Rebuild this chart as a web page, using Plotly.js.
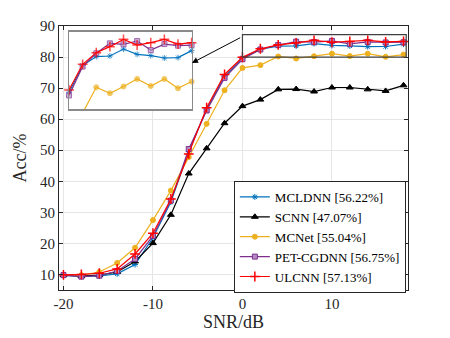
<!DOCTYPE html>
<html>
<head>
<meta charset="utf-8">
<script src="https://cdn.plot.ly/plotly-3.0.1.min.js"></script>
<style>html,body{margin:0;padding:0;background:#fff;}#chart{width:450px;height:338px;}</style>
</head>
<body>
<div id="chart"></div>
<script>
const snr = [-20,-18,-16,-14,-12,-10,-8,-6,-4,-2,0,2,4,6,8,10,12,14,16,18];
const mcldnn = [9.7,9.4,9.5,10.2,13.2,21.8,33.3,49.6,63.2,73.8,79.65,82.54,83.51,83.58,84.33,83.76,83.62,83.36,83.4,84.16];
const scnn   = [9.8,9.5,9.8,10.8,14.2,20.1,29.2,42.5,50.6,58.7,64.2,66.3,69.6,69.7,68.9,70.2,70.2,69.6,69.1,70.9];
const mcnet  = [9.8,9.8,10.8,13.7,18.6,27.5,37.0,47.8,58.5,69.3,76.5,77.4,80.19,79.54,80.27,81.09,80.33,81.09,80.08,80.81];
const petcgdnn = [9.8,9.3,9.6,11.1,15.0,22.4,33.8,50.4,62.8,73.3,79.3,82.43,83.87,84.95,84.84,85.2,84.22,84.87,84.7,84.76];
const ulcnn  = [9.9,10.0,10.4,11.8,16.6,23.3,34.3,48.8,63.7,74.4,79.9,82.68,83.94,84.59,85.38,84.76,85.02,85.38,84.87,85.02];
const seriesNames = ['MCLDNN [56.22%]','SCNN [47.07%]','MCNet [55.04%]','PET-CGDNN [56.75%]','ULCNN [57.13%]'];
const xTickVals = [-20,-10,0,10];
const xTickText = ['-20','-10','0','10'];
const yTickVals = [10,20,30,40,50,60,70,80,90];

const FONT = 'Liberation Serif, Times New Roman, serif';
const styles = [
  {color:'#0072BD', symbol:'asterisk-open', size:5, lw:1},
  {color:'#000000', symbol:'triangle-up', size:6, lw:1},
  {color:'#EDB120', symbol:'circle', size:5, lw:1},
  {color:'#7E2F8E', symbol:'square', size:5, lw:1, fill:'#b48cc2'},
  {color:'#FF0000', symbol:'cross-thin-open', size:7, lw:1.5}
];
const allData = [mcldnn, scnn, mcnet, petcgdnn, ulcnn];
const insetRange = [77.8, 86.2];

const traces = [];
allData.forEach((ys, i) => {
  const s = styles[i];
  traces.push({
    x: snr, y: ys, type:'scatter', mode:'lines+markers', name: seriesNames[i],
    xaxis:'x', yaxis:'y',
    line:{color:s.color, width:1.2},
    marker:{symbol:s.symbol, size:s.size, color:s.fill||s.color, line:{color:s.color, width:s.lw}}
  });
});
allData.forEach((ys, i) => {
  const s = styles[i];
  const xs = [], yv = [], sz = [];
  snr.forEach((v, k) => { if (v >= 0) { xs.push(v); yv.push(ys[k]); sz.push(ys[k] < insetRange[0] ? 0 : s.size); } });
  traces.push({
    x: xs, y: yv, type:'scatter', mode:'lines+markers', showlegend:false,
    xaxis:'x2', yaxis:'y2', cliponaxis:false,
    line:{color:s.color, width:1.2},
    marker:{symbol:s.symbol, size:sz, color:s.fill||s.color, line:{color:s.color, width:s.lw}}
  });
});

const axCommon = {
  showline:true, linecolor:'#262626', linewidth:1, mirror:'allticks',
  ticks:'inside', ticklen:4, tickcolor:'#262626', tickwidth:1,
  showgrid:true, gridcolor:'#e6e6e6', gridwidth:1, zeroline:false,
  tickfont:{family:FONT, size:15, color:'#262626'}
};

const layout = {
  width:450, height:338,
  margin:{l:59, r:42, t:26, b:48},
  paper_bgcolor:'#ffffff', plot_bgcolor:'#ffffff',
  showlegend:true,
  xaxis: Object.assign({}, axCommon, {
    range:[-20.5,18.5], tickmode:'array', tickvals:xTickVals, ticktext:xTickText,
    title:{text:'SNR/dB', font:{family:FONT, size:18, color:'#262626'}, standoff:4}
  }),
  yaxis: Object.assign({}, axCommon, {
    range:[5,90], tickmode:'array', tickvals:yTickVals,
    title:{text:'Acc/%', font:{family:FONT, size:18, color:'#262626'}, standoff:8}
  }),
  xaxis2: {domain:[0.0287,0.380], anchor:'y2', range:[0,18], showticklabels:false, ticks:'',
    showline:true, mirror:true, linecolor:'#8a8a8a', linewidth:1.5, showgrid:false, zeroline:false},
  yaxis2: {domain:[0.6845,0.978], anchor:'x2', range:insetRange, showticklabels:false, ticks:'',
    showline:true, mirror:true, linecolor:'#8a8a8a', linewidth:1.5, showgrid:false, zeroline:false},
  legend:{x:0.501, y:0.413, xanchor:'left', yanchor:'top', bgcolor:'#ffffff',
    bordercolor:'#262626', borderwidth:1, font:{family:FONT, size:13, color:'#000'},
    itemwidth:30, tracegroupgap:0},
  shapes:[{type:'rect', xref:'x', yref:'y', x0:0, x1:18.3, y0:80, y1:87.2,
    line:{color:'#404040', width:1.2}, fillcolor:'rgba(0,0,0,0)'}],
  annotations:[{xref:'paper', yref:'paper', x:0.381, y:0.86, ax:49.7, ay:-26, axref:'pixel', ayref:'pixel',
    text:'', showarrow:true, arrowhead:2, arrowsize:1.2, arrowwidth:1, arrowcolor:'#000'}]
};

Plotly.newPlot('chart', traces, layout, {staticPlot:true, displayModeBar:false});
</script>
</body>
</html>
